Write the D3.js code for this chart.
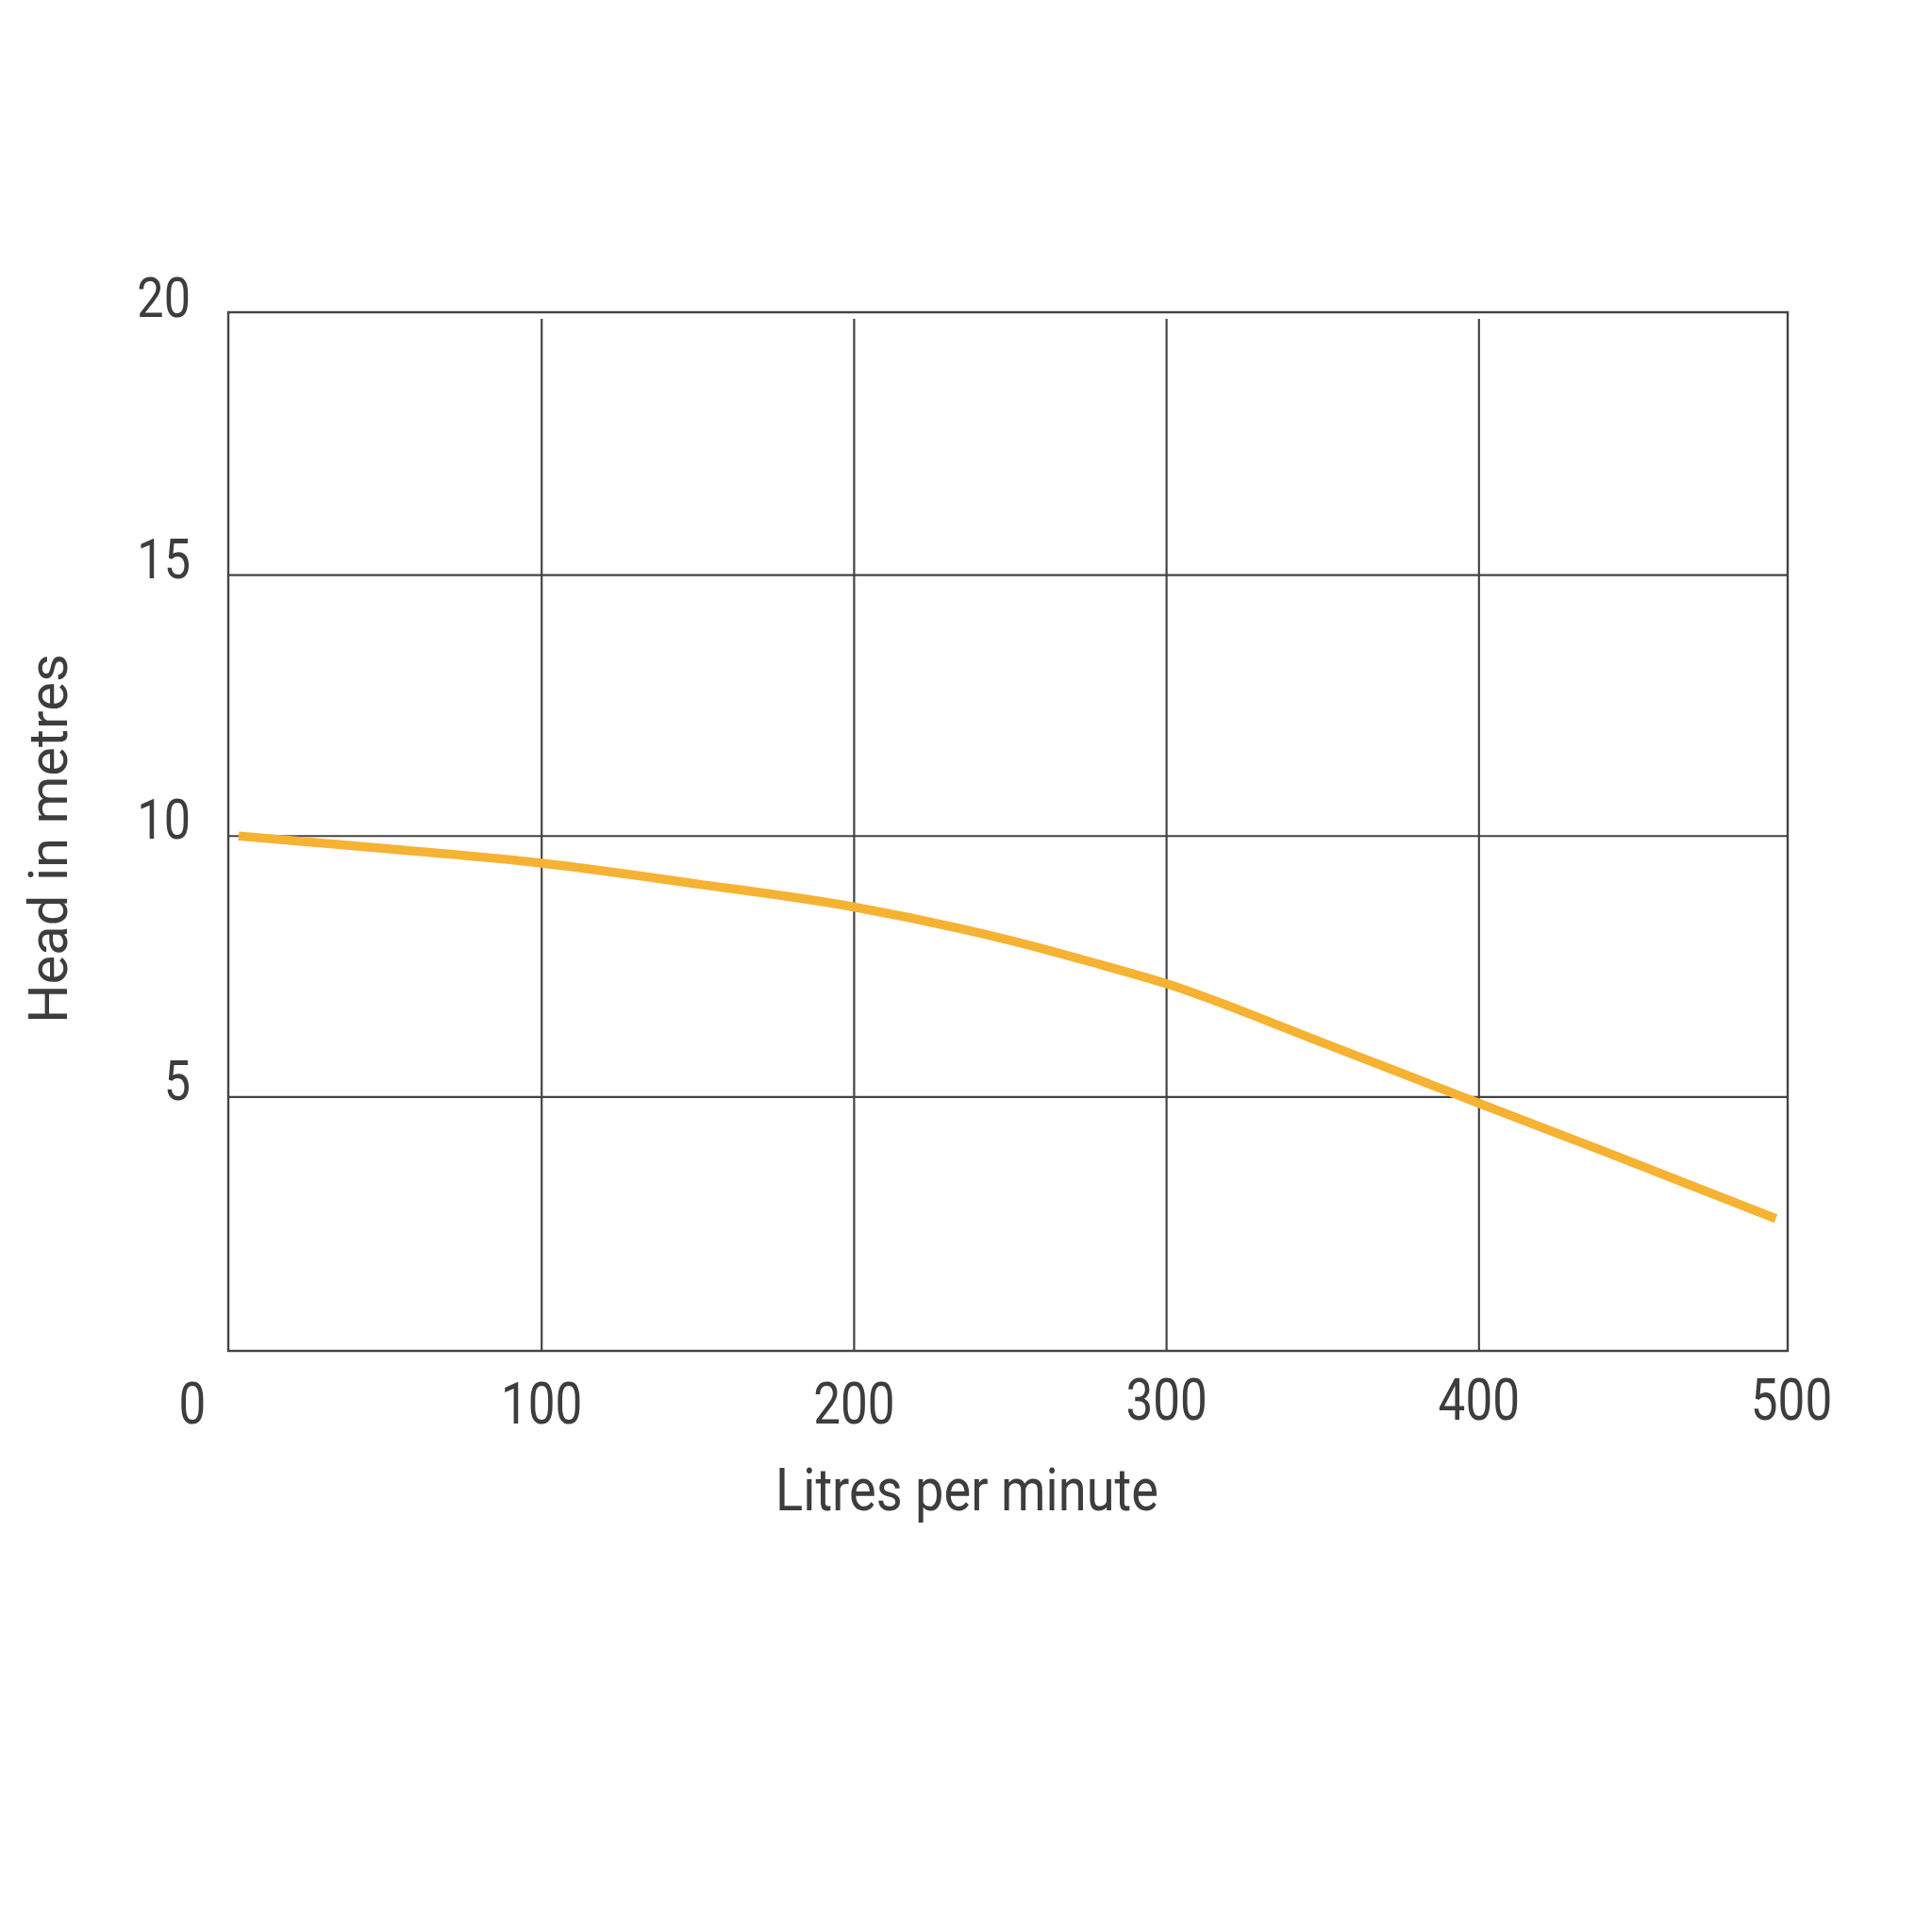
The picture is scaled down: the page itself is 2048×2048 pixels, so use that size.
<!DOCTYPE html>
<html>
<head>
<meta charset="utf-8">
<script src="https://cdn.jsdelivr.net/npm/d3@7"></script>
<style>
html,body{margin:0;padding:0;background:#fff;}
svg{display:block;}
</style>
</head>
<body>
<script>
// Data
const flowLpm = [3, 50, 100, 150, 200, 250, 275, 300, 350, 400, 440, 495];
const headM   = [10.0, 9.76, 9.48, 9.08, 8.64, 8.0, 7.6, 7.17, 6.04, 4.88, 3.96, 2.67];
const xTicks = [0, 100, 200, 300, 400, 500];
const yTicks = [5, 10, 15, 20];
const xGrid = [100, 200, 300, 400];
const yGrid = [5, 10, 15];
const xTitle = "Litres per minute";
const yTitle = "Head in metres";

const W = 2048, H = 2048;
const ink = "#3d3d3d", lineCol = "#444444", curveCol = "#F6B233";
const font = "Roboto, 'Noto Sans', sans-serif";

const svg = d3.select("body").append("svg").attr("width", W).attr("height", H);
svg.append("rect").attr("width", W).attr("height", H).attr("fill", "#fff");

const x = d3.scaleLinear().domain([0, 500]).range([243, 1899]);
const y = d3.scaleLinear().domain([0, 20]).range([1439.5, 333]);

const frame = {left: 242, right: 1895, top: 331, bottom: 1432};

// horizontal gridlines
svg.append("g").selectAll("line").data(yGrid).join("line")
  .attr("x1", frame.left).attr("x2", frame.right)
  .attr("y1", d => y(d)).attr("y2", d => y(d))
  .attr("stroke", lineCol).attr("stroke-width", 2.2);

// vertical gridlines
svg.append("g").selectAll("line").data(xGrid).join("line")
  .attr("x1", d => x(d)).attr("x2", d => x(d))
  .attr("y1", 338).attr("y2", frame.bottom)
  .attr("stroke", lineCol).attr("stroke-width", 2.2);

// frame
svg.append("rect")
  .attr("x", frame.left).attr("y", frame.top)
  .attr("width", frame.right - frame.left).attr("height", frame.bottom - frame.top)
  .attr("fill", "none").attr("stroke", lineCol).attr("stroke-width", 2.4);

// curve
const line = d3.line()
  .x((d, i) => x(flowLpm[i]))
  .y(d => y(d))
  .curve(d3.curveMonotoneX);
svg.append("path").datum(headM)
  .attr("d", line)
  .attr("fill", "none").attr("stroke", curveCol)
  .attr("stroke-width", 9.5).attr("stroke-linecap", "butt").attr("stroke-linejoin", "round");

// x tick labels
const xl = svg.append("g").selectAll("g").data(xTicks).join("g")
  .attr("transform", d => `translate(${d === 0 ? x(0) - 39 : x(d)},${d <= 200 ? 1509 : 1505})`);
xl.append("text")
  .attr("text-anchor", "middle")
  .attr("transform", "scale(0.84,1)")
  .attr("font-family", font).attr("font-size", 61).attr("fill", ink)
  .text(d => d);

// y tick labels
const yl = svg.append("g").selectAll("g").data(yTicks).join("g")
  .attr("transform", d => `translate(202,${y(d) + 3})`);
yl.append("text")
  .attr("text-anchor", "end")
  .attr("transform", "scale(0.84,1)")
  .attr("font-family", font).attr("font-size", 60).attr("fill", ink)
  .text(d => d);

// x title
svg.append("g").attr("transform", "translate(1025,1601)")
  .append("text")
  .attr("text-anchor", "middle")
  .attr("transform", "scale(0.86,1)")
  .attr("font-family", font).attr("font-size", 63).attr("fill", ink)
  .text(xTitle);

// y title
svg.append("text")
  .attr("transform", "translate(71,889) rotate(-90)")
  .attr("text-anchor", "middle")
  .attr("font-family", font).attr("font-size", 58).attr("fill", ink)
  .text(yTitle);
</script>
</body>
</html>
